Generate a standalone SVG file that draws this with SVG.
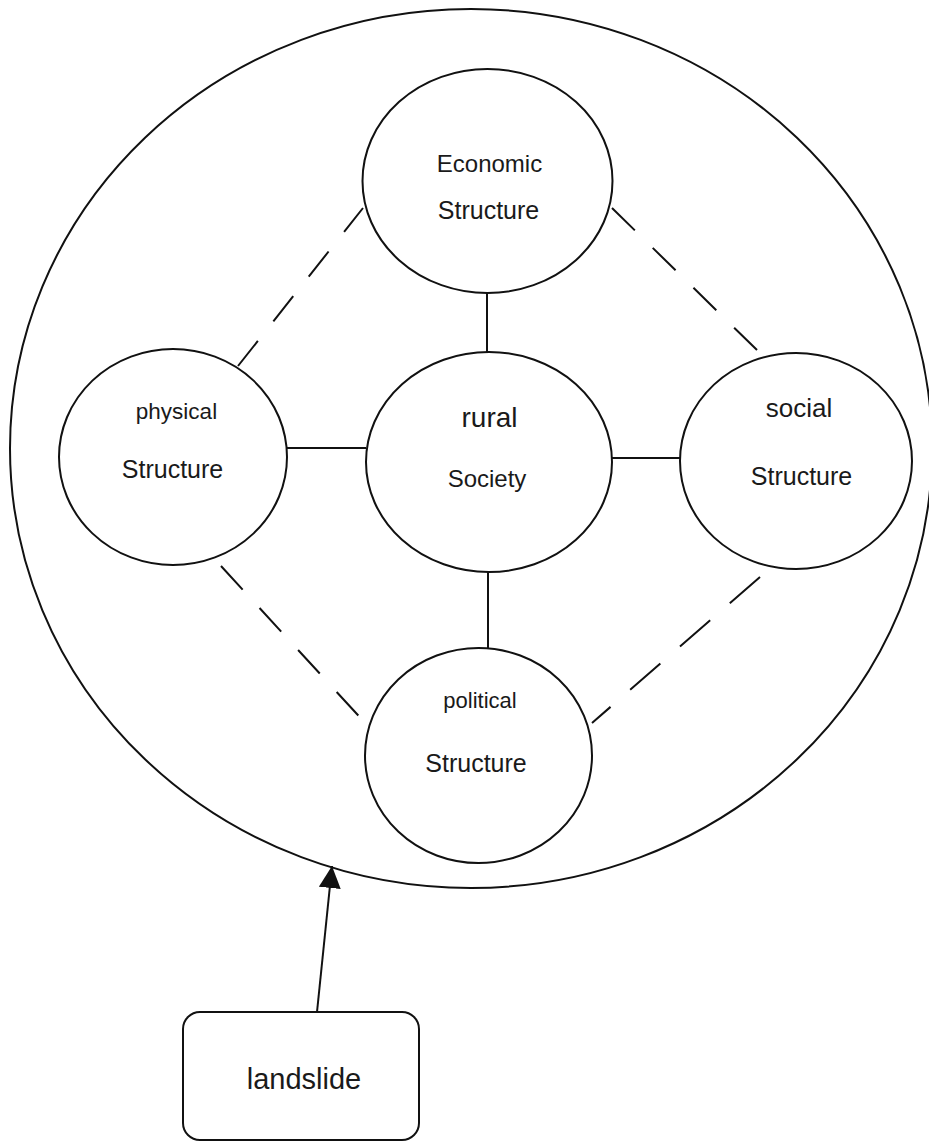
<svg xmlns="http://www.w3.org/2000/svg" width="929" height="1142" viewBox="0 0 929 1142">
<style>
.node{fill:none;stroke:#111;stroke-width:2}
.solid{stroke:#111;stroke-width:2;fill:none}
.dash{stroke:#111;stroke-width:2;fill:none;stroke-dasharray:32 25}
.lbl{font-family:"Liberation Sans",Arial,sans-serif;fill:#1a1a1a;text-anchor:middle}
</style>
<defs>
<marker id="arrow" markerUnits="userSpaceOnUse" markerWidth="24" markerHeight="24" refX="22" refY="11" orient="auto">
<path d="M0,0 L22,11 L0,22 z" fill="#111"/>
</marker>
</defs>
<rect width="929" height="1142" fill="#fff"/>
<g id="connectors">
<line class="solid" x1="487" y1="293" x2="487" y2="352"/>
<line class="solid" x1="287" y1="448" x2="366" y2="448"/>
<line class="solid" x1="612" y1="458" x2="680" y2="458"/>
<line class="solid" x1="488" y1="572" x2="488" y2="648"/>
<line class="dash" x1="238" y1="366" x2="363" y2="208"/>
<line class="dash" x1="612" y1="208" x2="760" y2="353"/>
<line class="dash" x1="221" y1="566" x2="367" y2="725"/>
<line class="dash" style="stroke-dasharray:40 26" x1="760" y1="577" x2="592" y2="723"/>
<line class="solid" x1="317" y1="1012" x2="332" y2="866" marker-end="url(#arrow)"/>
</g>
<g id="rural-world">
<ellipse class="node" cx="471" cy="448.5" rx="461" ry="439.5"/>
</g>
<g id="economic">
<ellipse class="node" cx="487.5" cy="181" rx="125" ry="112"/>
<text class="lbl" x="489.5" y="172" font-size="24">Economic</text>
<text class="lbl" x="488.5" y="219" font-size="25">Structure</text>
</g>
<g id="physical">
<ellipse class="node" cx="173" cy="457" rx="114" ry="108"/>
<text class="lbl" x="176.5" y="419" font-size="22.5">physical</text>
<text class="lbl" x="172.5" y="478" font-size="25">Structure</text>
</g>
<g id="rural">
<ellipse class="node" cx="489" cy="462" rx="123" ry="110"/>
<text class="lbl" x="489.5" y="427" font-size="28">rural</text>
<text class="lbl" x="487" y="487" font-size="24">Society</text>
</g>
<g id="social">
<ellipse class="node" cx="796" cy="461" rx="116" ry="108"/>
<text class="lbl" x="799" y="417" font-size="26">social</text>
<text class="lbl" x="801.5" y="485" font-size="25">Structure</text>
</g>
<g id="political">
<ellipse class="node" cx="478.5" cy="755.5" rx="113.5" ry="107.5"/>
<text class="lbl" x="480" y="708" font-size="22">political</text>
<text class="lbl" x="476" y="772" font-size="25">Structure</text>
</g>
<g id="landslide">
<rect class="node" x="183" y="1012" width="236" height="128" rx="17" ry="17"/>
<text class="lbl" x="304" y="1089" font-size="29">landslide</text>
</g>
</svg>
